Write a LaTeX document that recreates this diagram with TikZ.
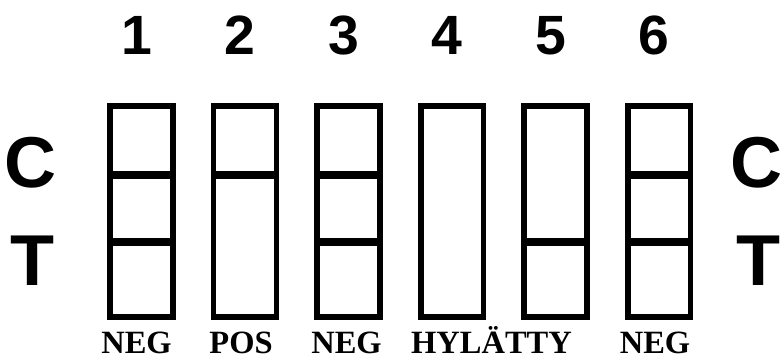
\documentclass[tikz,border=0pt]{standalone}
\usepackage{fontspec}
\setmainfont{Liberation Serif}
\setsansfont{Liberation Sans}
\usetikzlibrary{positioning}

\begin{document}
\begin{tikzpicture}[x=0.02cm, y=-0.02cm,
    strip/.style={draw, line width=3.4pt, minimum width=1.26cm, minimum height=4.22cm, inner sep=0pt, outer sep=0pt},
    band/.style={line width=5pt},
    num/.style={font=\sffamily\bfseries\fontsize{31.5}{32}\selectfont, anchor=base},
    zone/.style={font=\sffamily\bfseries\fontsize{41}{42}\selectfont, anchor=base},
    res/.style={font=\bfseries\fontsize{18.5}{19}\selectfont, anchor=base}
]
\useasboundingbox (0,0) rectangle (780,358);
\def\pw{103.5}
\def\sy{211.5}

% test strips
\node[strip] (s1) at (141.5, \sy) {};
\node[strip] (s2) at (141.5+\pw, \sy) {};
\node[strip] (s3) at (141.5+2*\pw, \sy) {};
\node[strip] (s4) at (141.5+3*\pw, \sy) {};
\node[strip] (s5) at (141.5+4*\pw, \sy) {};
\node[strip] (s6) at (141.5+5*\pw, \sy) {};

% band heights
\coordinate (cl) at (0, 175);
\coordinate (tl) at (0, 242);

\draw[band] (s1.west |- cl) -- (s1.east |- cl);
\draw[band] (s1.west |- tl) -- (s1.east |- tl);
\draw[band] (s2.west |- cl) -- (s2.east |- cl);
\draw[band] (s3.west |- cl) -- (s3.east |- cl);
\draw[band] (s3.west |- tl) -- (s3.east |- tl);
\draw[band] (s5.west |- tl) -- (s5.east |- tl);
\draw[band] (s6.west |- cl) -- (s6.east |- cl);
\draw[band] (s6.west |- tl) -- (s6.east |- tl);

% numbers
\node[num] (n1) at (136.5, 55) {1};
\node[num] (n2) at (136.5+\pw, 55) {2};
\node[num] (n3) at (136.5+2*\pw, 55) {3};
\node[num] (n4) at (136.5+3*\pw, 55) {4};
\node[num] (n5) at (136.5+4*\pw, 55) {5};
\node[num] (n6) at (136.5+5*\pw, 55) {6};

% C / T
\node[zone] (cL) at (31, 187) {C};
\node[zone] (tL) at (33, 285) {T};
\node[zone] (cR) at (756.5, 187) {C};
\node[zone] (tR) at (758, 285) {T};

% results
\node[res] (r1) at (136.5, 353) {NEG};
\node[res] (r2) at (241, 353) {POS};
\node[res] (r3) at (346.5, 353) {NEG};
\node[res] (r4) at (491.5, 353) {HYLÄTTY};
\node[res] (r6) at (655, 353) {NEG};
\end{tikzpicture}
\end{document}
